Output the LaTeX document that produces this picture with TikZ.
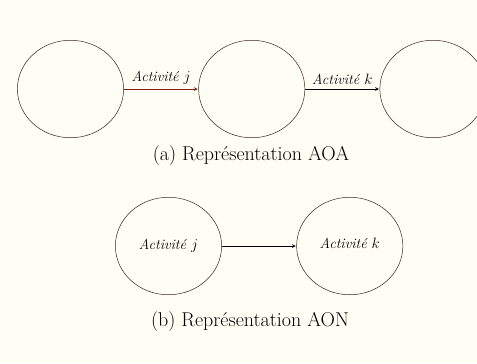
\documentclass[tikz,border=0pt]{standalone}
\usepackage{amsmath,amssymb}
\usepackage{tikz}
\usetikzlibrary{shapes.geometric,positioning}
\definecolor{fond}{RGB}{255,254,244}
\definecolor{trait}{RGB}{60,35,30}
\definecolor{rouge}{RGB}{130,25,20}
\newcommand*{\activ}[1]{\textit{Activit\'e #1}}

\begin{document}
\begin{tikzpicture}[x=0.8pt,y=-0.8pt,shorten >=0.5pt,node distance=145pt,on grid,auto,
    etat/.style={draw=trait,ellipse,minimum width=85pt,minimum height=78pt,inner sep=0pt},
    font=\fontsize{11.5}{14}\selectfont,
    legende/.style={font=\fontsize{16}{19}\selectfont}]
    \fill[fond] (0,0) rectangle (477,363);
    \useasboundingbox (0,0) rectangle (477,363);
    % AOA
    \node[etat] (n1) at (70.5,89) {};
    \node[etat] (n2) [right = of n1] {};
    \node[etat] (n3) [right = of n2] {};
    \node[legende] (capa) at (251,156) {(a) Repr\'esentation AOA};
    \path[-stealth]
    (n1) edge [draw=rouge] node {\activ{$j$}} (n2)
    (n2) edge node {\activ{$k$}} (n3)
    ;
    % AON
    \node[etat] (aj) at (168.5,246) {\activ{$j$}};
    \node[etat] (ak) [right = of aj] {\raisebox{4pt}{\activ{$k$}}};
    \node[legende] (capb) at (250,322) {(b) Repr\'esentation AON};
    \path[-stealth]
    (aj) edge (ak)
    ;
  \end{tikzpicture}
\end{document}
